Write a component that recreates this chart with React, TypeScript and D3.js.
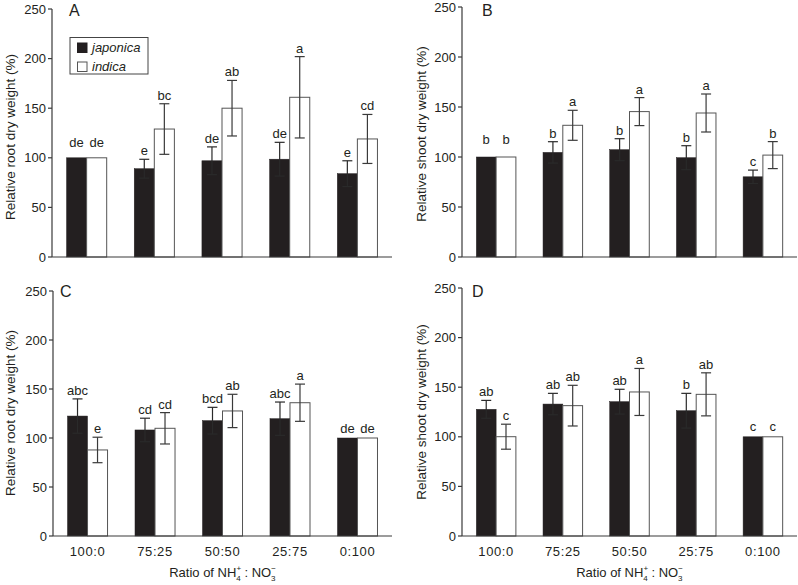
import React from "react";
import * as d3 from "d3";

const categories = ["100:0", "75:25", "50:50", "25:75", "0:100"];
const seriesNames = ["japonica", "indica"];
const yTicks = [0, 50, 100, 150, 200, 250];

// Panel A – relative root dry weight
const aJaponica = [100, 89, 97, 98.6, 84];
const aJaponicaErr = [0, 9.5, 14, 17, 13];
const aIndica = [100, 129, 150, 161, 119];
const aIndicaErr = [0, 25.5, 28, 41, 24.7];
const aJaponicaLetters = ["de", "e", "de", "de", "e"];
const aIndicaLetters = ["de", "bc", "ab", "a", "cd"];

// Panel B – relative shoot dry weight
const bJaponica = [100, 104.6, 107.3, 99.3, 80.2];
const bJaponicaErr = [0, 10.7, 11, 12, 6.7];
const bIndica = [100, 131.7, 145.4, 144, 101.9];
const bIndicaErr = [0, 15, 14, 19, 13.5];
const bJaponicaLetters = ["b", "b", "b", "b", "c"];
const bIndicaLetters = ["b", "a", "a", "a", "b"];

// Panel C – relative root dry weight
const cJaponica = [122.4, 108.2, 117.7, 119.7, 100];
const cJaponicaErr = [17.5, 12, 13.6, 17, 0];
const cIndica = [87.8, 109.9, 127.6, 136, 100];
const cIndicaErr = [13, 16, 17, 19, 0];
const cJaponicaLetters = ["abc", "cd", "bcd", "abc", "de"];
const cIndicaLetters = ["e", "cd", "ab", "a", "de"];

// Panel D – relative shoot dry weight
const dJaponica = [127.7, 133, 135.4, 126.3, 100];
const dJaponicaErr = [9, 10.8, 12.5, 17.5, 0];
const dIndica = [100.1, 131.4, 145.2, 142.8, 100];
const dIndicaErr = [12.6, 20.5, 23.7, 21.7, 0];
const dJaponicaLetters = ["ab", "ab", "ab", "b", "c"];
const dIndicaLetters = ["c", "ab", "a", "ab", "c"];

const FONT = "'Liberation Sans', Arial, Helvetica, sans-serif";
const INK = "#231f20";
const AXIS = "#3a3a3a";

type PanelProps = {
  letter: string;
  yLabel: string;
  x0: number;
  x1: number;
  yTop: number;
  yBottom: number;
  letterX: number;
  letterY: number;
  yLabelX: number;
  yLabelY: number;
  zeroGap: number;
  showX: boolean;
  series: { values: number[]; errs: number[]; letters: string[] }[];
  legend?: boolean;
};

function Panel(p: PanelProps) {
  const x = d3
    .scaleBand<string>()
    .domain(categories)
    .range([p.x0, p.x1])
    .paddingInner(0.407)
    .paddingOuter(0.215);
  const y = d3.scaleLinear().domain([0, 250]).range([p.yBottom, p.yTop]);
  const bw = x.bandwidth() / seriesNames.length;
  const midX = (p.x0 + p.x1) / 2;

  return (
    <g>
      {p.series.map((s, si) =>
        categories.map((c, ci) => (
          <rect
            key={`b${si}-${ci}`}
            x={(x(c) as number) + si * bw}
            y={y(s.values[ci])}
            width={bw}
            height={y(0) - y(s.values[ci])}
            fill={si === 0 ? INK : "#fff"}
            stroke={si === 0 ? INK : "#555"}
            strokeWidth={si === 0 ? 0.5 : 1}
          />
        ))
      )}
      {p.series.map((s, si) =>
        categories.map((c, ci) => {
          const e = s.errs[ci];
          if (!e) return null;
          const cx = (x(c) as number) + si * bw + bw / 2;
          const yHi = y(s.values[ci] + e);
          const yLo = y(s.values[ci] - e);
          return (
            <g key={`e${si}-${ci}`} stroke={si === 0 ? "#2a2a2a" : "#3a3a3a"} strokeWidth={1.2}>
              <line x1={cx} x2={cx} y1={yHi} y2={yLo} />
              <line x1={cx - 5} x2={cx + 5} y1={yHi} y2={yHi} />
              <line x1={cx - 5} x2={cx + 5} y1={yLo} y2={yLo} />
            </g>
          );
        })
      )}
      {p.series.map((s, si) =>
        categories.map((c, ci) => {
          const e = s.errs[ci];
          const cx = (x(c) as number) + si * bw + bw / 2;
          const yy = y(s.values[ci] + e) - (e ? 4 : p.zeroGap);
          return (
            <text key={`l${si}-${ci}`} x={cx} y={yy} textAnchor="middle" fontSize={13} fill={INK}>
              {s.letters[ci]}
            </text>
          );
        })
      )}
      <line x1={p.x0} x2={p.x0} y1={p.yTop} y2={p.yBottom} stroke={AXIS} strokeWidth={1.2} />
      <line x1={p.x0} x2={p.x1} y1={p.yBottom} y2={p.yBottom} stroke={AXIS} strokeWidth={1.2} />
      {yTicks.map((t) => (
        <g key={`t${t}`}>
          <line x1={p.x0 - 4} x2={p.x0} y1={y(t)} y2={y(t)} stroke={AXIS} strokeWidth={1.2} />
          <text x={p.x0 - 6} y={y(t)} dy="0.35em" textAnchor="end" fontSize={13} fill={INK}>
            {t}
          </text>
        </g>
      ))}
      <text
        transform={`translate(${p.yLabelX},${p.yLabelY}) rotate(-90)`}
        textAnchor="middle"
        fontSize={13.5}
        fill={INK}
      >
        {p.yLabel}
      </text>
      <text x={p.letterX} y={p.letterY} fontSize={16} fill={INK}>
        {p.letter}
      </text>
      {p.showX && (
        <g>
          {categories.map((c) => (
            <text
              key={`x${c}`}
              x={(x(c) as number) + x.bandwidth() / 2}
              y={p.yBottom + 20}
              textAnchor="middle"
              fontSize={13}
              letterSpacing={0.6}
              fill={INK}
            >
              {c}
            </text>
          ))}
          <text x={midX} y={p.yBottom + 41} textAnchor="middle" fontSize={13} fill={INK}>
            Ratio of NH
            <tspan fontSize={8} dy={-6}>+</tspan>
            <tspan fontSize={8} dx={-4.7} dy={10}>4</tspan>
            <tspan dy={-4}> : NO</tspan>
            <tspan fontSize={8} dy={-6}>−</tspan>
            <tspan fontSize={8} dx={-4.7} dy={10}>3</tspan>
          </text>
        </g>
      )}
      {p.legend && (
        <g>
          <rect x={70} y={37.5} width={78} height={36.5} fill="#fff" stroke="#444" strokeWidth={1} />
          {seriesNames.map((n, i) => (
            <g key={n}>
              <rect
                x={77.5}
                y={43 + i * 19}
                width={9.5}
                height={9.5}
                fill={i === 0 ? INK : "#fff"}
                stroke={i === 0 ? INK : "#555"}
                strokeWidth={1}
              />
              <text x={92} y={52 + i * 19} fontSize={13} fontStyle="italic" fill={INK}>
                {n}
              </text>
            </g>
          ))}
        </g>
      )}
    </g>
  );
}

export default function App() {
  return (
    <svg
      width={798}
      height={585}
      style={{ position: "absolute", left: 0, top: 0, background: "#fff", fontFamily: FONT }}
    >
      <rect x={0} y={0} width={798} height={585} fill="#fff" />
      <Panel
        letter="A"
        yLabel="Relative root dry weight (%)"
        x0={52}
        x1={392}
        yTop={9}
        yBottom={257}
        letterX={69}
        letterY={16}
        yLabelX={15}
        yLabelY={137}
        zeroGap={11}
        showX={false}
        legend
        series={[
          { values: aJaponica, errs: aJaponicaErr, letters: aJaponicaLetters },
          { values: aIndica, errs: aIndicaErr, letters: aIndicaLetters },
        ]}
      />
      <Panel
        letter="B"
        yLabel="Relative shoot dry weight (%)"
        x0={462}
        x1={797}
        yTop={7}
        yBottom={257}
        letterX={482}
        letterY={16}
        yLabelX={426}
        yLabelY={134}
        zeroGap={13}
        showX={false}
        series={[
          { values: bJaponica, errs: bJaponicaErr, letters: bJaponicaLetters },
          { values: bIndica, errs: bIndicaErr, letters: bIndicaLetters },
        ]}
      />
      <Panel
        letter="C"
        yLabel="Relative root dry weight (%)"
        x0={53}
        x1={392}
        yTop={291}
        yBottom={536}
        letterX={60}
        letterY={297}
        yLabelX={15}
        yLabelY={413}
        zeroGap={5}
        showX
        series={[
          { values: cJaponica, errs: cJaponicaErr, letters: cJaponicaLetters },
          { values: cIndica, errs: cIndicaErr, letters: cIndicaLetters },
        ]}
      />
      <Panel
        letter="D"
        yLabel="Relative shoot dry weight (%)"
        x0={462}
        x1={797}
        yTop={288}
        yBottom={536}
        letterX={472}
        letterY={297}
        yLabelX={426}
        yLabelY={412}
        zeroGap={6}
        showX
        series={[
          { values: dJaponica, errs: dJaponicaErr, letters: dJaponicaLetters },
          { values: dIndica, errs: dIndicaErr, letters: dIndicaLetters },
        ]}
      />
    </svg>
  );
}
